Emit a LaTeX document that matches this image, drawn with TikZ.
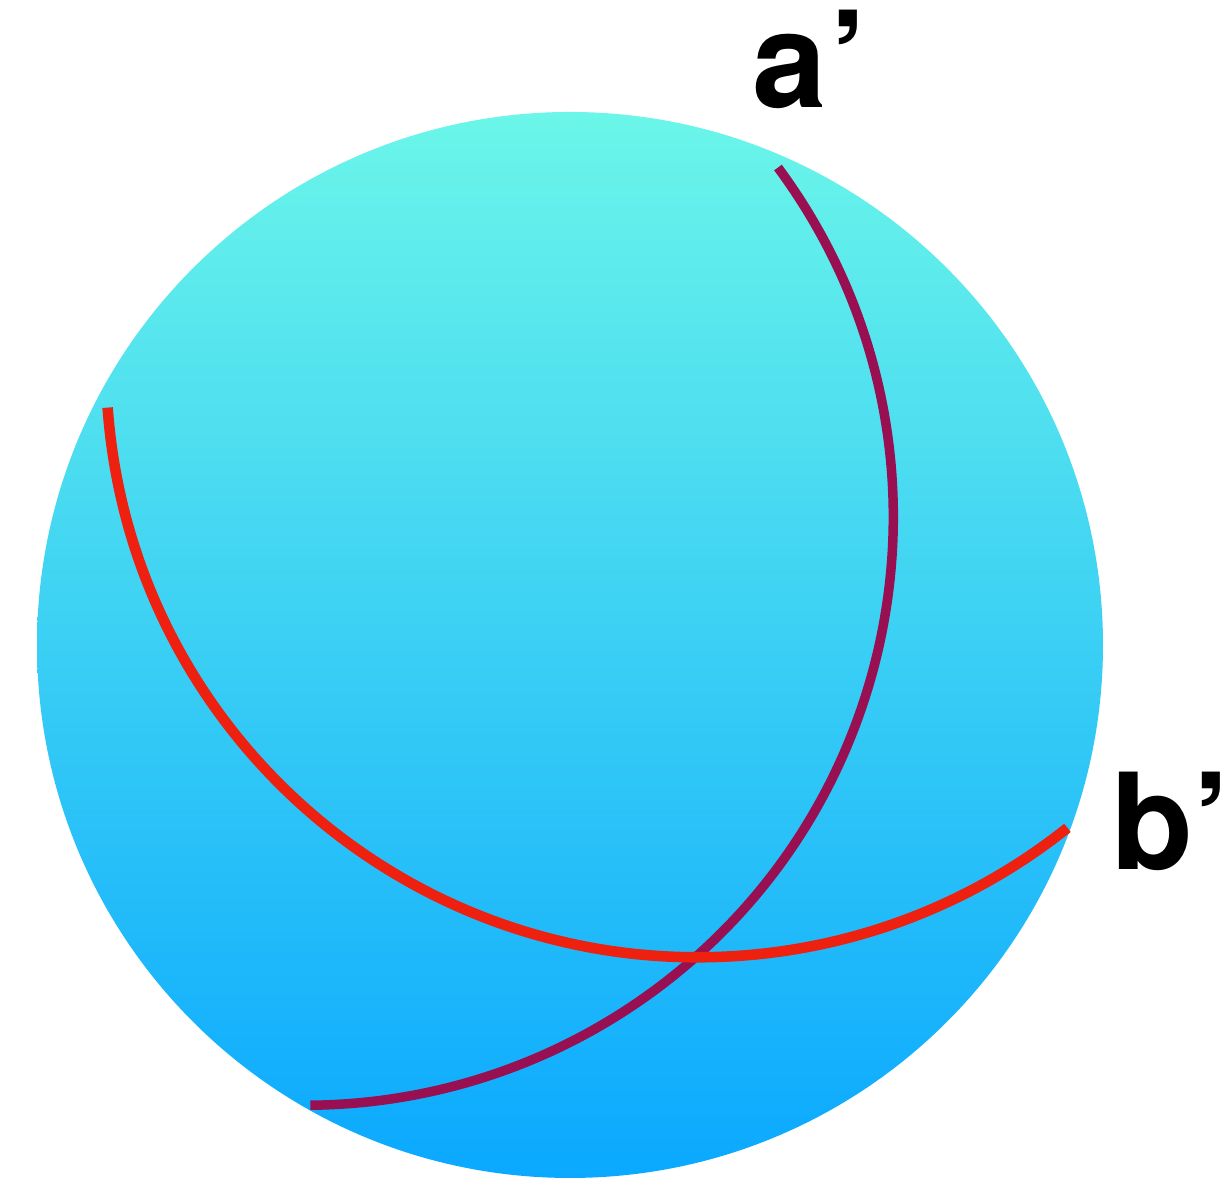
\documentclass[tikz,border=0pt]{standalone}
\usepackage{fontspec}
\setmainfont{TeX Gyre Heros}
\definecolor{topc}{HTML}{6BF6E9}
\definecolor{botc}{HTML}{0AA8FF}
\definecolor{purp}{HTML}{981052}
\definecolor{redc}{HTML}{EE2010}
\begin{document}
\begin{tikzpicture}[x=0.01cm,y=0.01cm,
  lbl/.style={font=\fontsize{38}{40}\selectfont\bfseries, inner sep=0pt, anchor=base west},
  purpline/.style={draw=purp, line width=2.7pt},
  redline/.style={draw=redc, line width=3pt}]
\useasboundingbox (0,0) rectangle (1229,1180);
\coordinate (sc) at (570,535);
\shade[top color=topc, bottom color=botc] (sc) circle[radius=533];
\coordinate (pc) at (305.3,662.7);
\coordinate (rc) at (698.1,814.7);
\draw[purpline] (pc) ++(36.5:588) arc[start angle=36.5, end angle=-89.5, radius=588];
\draw[redline] (rc) ++(184.1:592) arc[start angle=184.1, end angle=308.6, radius=592];
\node[lbl] (la) at (752,1072) {a\kern1pt’};
\node[lbl] (lb) at (1111,310) {b’};
\end{tikzpicture}
\end{document}
